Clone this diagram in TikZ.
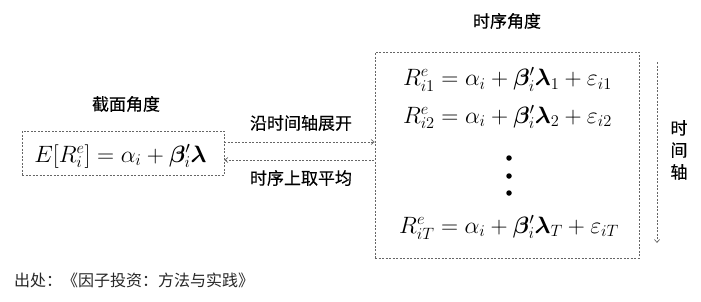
\documentclass[tikz,border=0pt]{standalone}
\usepackage{amsmath,bm,graphicx}
\usepackage{fontspec}
\newfontfamily\cjk[FakeBold=0.3]{Noto Sans CJK SC}
\newfontfamily\cjkreg{Noto Sans CJK SC}
\usetikzlibrary{arrows.meta,calc}
\newcommand{\bigeq}[1]{\scalebox{1.14}{\huge$#1$}}
\begin{document}
\begin{tikzpicture}[x=1pt,y=-1pt,
 lines/.style={draw=black!60, dash pattern=on 2pt off 1.5pt, line width=0.7pt},
 box/.style={lines, inner sep=0},
 tipr/.style={-{Straight Barb[length=3pt,width=5pt]}},
 tipl/.style={{Straight Barb[length=3pt,width=5pt]}-},
 cn/.style={font=\cjk\fontsize{17}{22}\selectfont, inner sep=0, text=black},
 eq/.style={inner sep=0, anchor=base},
 dot/.style={circle, fill=black, inner sep=0, minimum size=5.5pt}]
\useasboundingbox (0,0) rectangle (701,301);
% left box
\node[box, minimum width=202pt, minimum height=44pt] (L) at (123,153) {};
\node[eq] (Le) at (120.5,162) {\bigeq{E[R_i^e] = \alpha_i + \bm{\beta}_i'\bm{\lambda}}};
\node[cn] (Lt) at (126,104) {截面角度};
% right box
\node[box, minimum width=264pt, minimum height=206pt] (R) at (507,155) {};
\node[cn] (Rt) at (507,21) {时序角度};
\node[eq] (e1) at (507.5,85.5) {\bigeq{R_{i1}^e = \alpha_i + \bm{\beta}_i'\bm{\lambda}_1 + \varepsilon_{i1}}};
\node[eq] (e2) at (507.5,123) {\bigeq{R_{i2}^e = \alpha_i + \bm{\beta}_i'\bm{\lambda}_2 + \varepsilon_{i2}}};
\node[dot] (d1) at (509,158) {};
\node[dot] (d2) at (509,176) {};
\node[dot] (d3) at (509,193) {};
\node[eq] (eT) at (509,233) {\bigeq{R_{iT}^e = \alpha_i + \bm{\beta}_i'\bm{\lambda}_T + \varepsilon_{iT}}};
% connectors
\draw[lines, tipr] ($(L.east)+(0,-11)$) -- ($(R.west)+(0,-13)$);
\draw[lines, tipl] ($(L.east)+(0,7)$) -- ($(R.west)+(0,5)$);
\node[cn] (up) at (301,123) {沿时间轴展开};
\node[cn] (dn) at (301,178) {时序上取平均};
% time axis
\coordinate (ta) at (657,62);
\coordinate (tb) at (657,243);
\draw[lines, tipr] (ta) -- (tb);
\node[cn, align=center] (tl) at (679,150) {时\\间\\轴};
% source
\node[anchor=west, inner sep=0, text=black!85, font=\cjkreg\fontsize{16}{20}\selectfont] (src) at (14,280) {出处：《因子投资：方法与实践》};
\end{tikzpicture}
\end{document}
